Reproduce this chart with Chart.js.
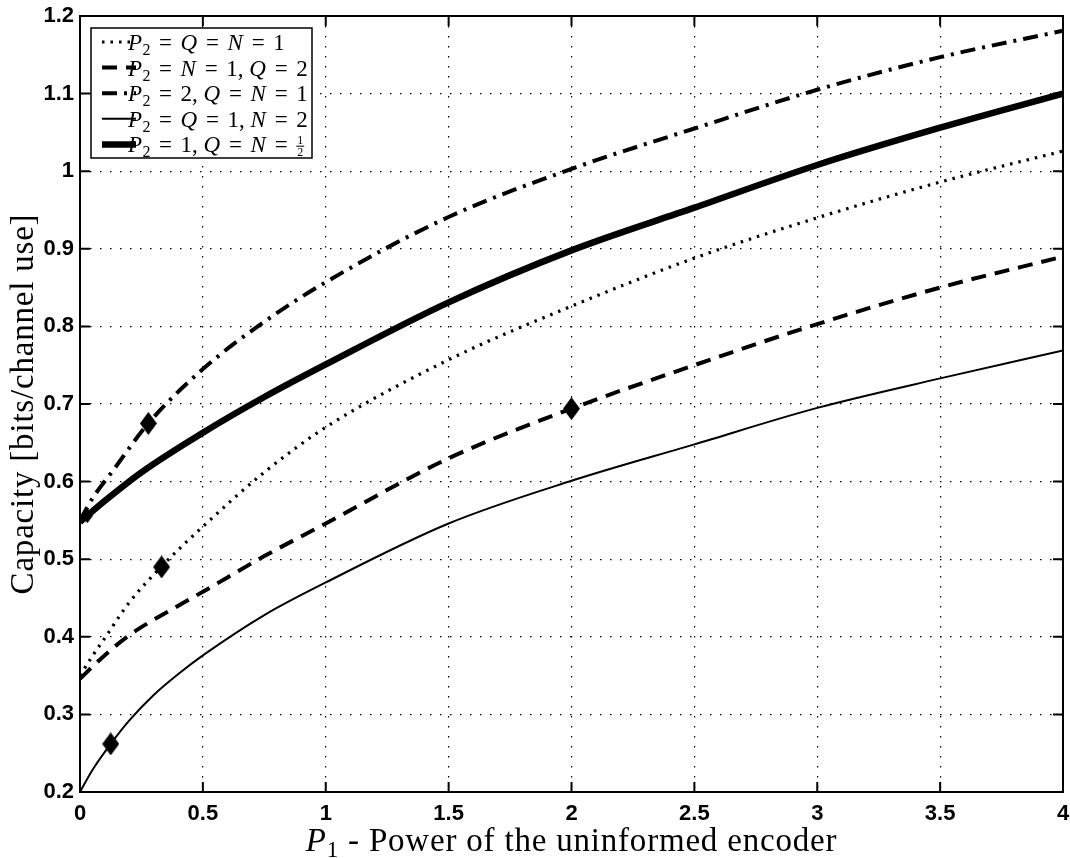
<!DOCTYPE html>
<html>
<head>
<meta charset="utf-8">
<script src="https://cdn.jsdelivr.net/npm/chart.js@4.4.0/dist/chart.umd.min.js"></script>
<style>
  html, body { margin: 0; padding: 0; background: #fff; }
</style>
</head>
<body>
<canvas id="myChart" width="1070" height="858"></canvas>
<script>
// values (P1 -> capacity)
// P2 = Q = N = 1 (dotted)
const xDotted = [0, 0.05, 0.1, 0.2, 0.33, 0.5, 0.75, 1, 1.5, 2, 2.5, 3, 3.5, 4];
const yDotted = [0.350, 0.375, 0.398, 0.444, 0.490, 0.542, 0.612, 0.670, 0.757, 0.826, 0.888, 0.940, 0.986, 1.026];

// P2 = N = 1, Q = 2 (dashed)
const xDashed = [0, 0.1, 0.2, 0.4, 0.5, 0.75, 1, 1.5, 2, 2.5, 3, 3.5, 4];
const yDashed = [0.346, 0.376, 0.402, 0.440, 0.458, 0.504, 0.546, 0.630, 0.694, 0.750, 0.803, 0.850, 0.890];

// P2 = 2, Q = N = 1 (dash-dot)
const xDashDot = [0, 0.05, 0.136, 0.278, 0.5, 0.75, 1, 1.5, 2, 2.5, 3, 3.5, 4];
const yDashDot = [0.550, 0.578, 0.615, 0.675, 0.745, 0.806, 0.857, 0.941, 1.003, 1.055, 1.105, 1.147, 1.181];

// P2 = Q = 1, N = 2 (thin solid)
const xThin = [0, 0.05, 0.125, 0.2, 0.3, 0.4, 0.5, 0.75, 1, 1.5, 2, 2.5, 3, 3.5, 4];
const yThin = [0.200, 0.228, 0.262, 0.292, 0.325, 0.352, 0.376, 0.428, 0.470, 0.546, 0.601, 0.648, 0.695, 0.733, 0.769];

// P2 = 1, Q = N = 1/2 (thick solid)
const xThick = [0, 0.1, 0.25, 0.5, 0.75, 1, 1.5, 2, 2.5, 3, 3.5, 4];
const yThick = [0.548, 0.575, 0.612, 0.663, 0.709, 0.751, 0.831, 0.898, 0.953, 1.008, 1.056, 1.100];

// diamond markers on the curves
const markX = [0.278, 0.332, 2, 0.125, 0.03];
const markY = [0.675, 0.490, 0.694, 0.262, 0.556];

// axis ticks
const xTicks = [0, 0.5, 1, 1.5, 2, 2.5, 3, 3.5, 4];
const yTicks = [0.2, 0.3, 0.4, 0.5, 0.6, 0.7, 0.8, 0.9, 1, 1.1, 1.2];

const SERIF = "'Liberation Serif', 'Times New Roman', serif";
const SANS = "'Liberation Sans', Arial, sans-serif";

function toPts(xs, ys) {
  return xs.map((x, i) => ({ x: x, y: ys[i] }));
}

function makeDiamond(w, h) {
  const c = document.createElement("canvas");
  c.width = w;
  c.height = h;
  const g = c.getContext("2d");
  g.fillStyle = "#000";
  g.beginPath();
  g.moveTo(w / 2, 0);
  g.lineTo(w, h / 2);
  g.lineTo(w / 2, h);
  g.lineTo(0, h / 2);
  g.closePath();
  g.fill();
  return c;
}

const bigDiamond = makeDiamond(17, 23);
const smallDiamond = makeDiamond(11, 15);

// line styles, also used by the hand drawn legend
const styles = [
  { width: 3.2, dash: [2.5, 6] },
  { width: 4, dash: [15, 9] },
  { width: 4, dash: [15, 7, 3, 7] },
  { width: 2, dash: [] },
  { width: 6.5, dash: [] },
];

// legend labels as small math token lists: i = italic, r = roman, s = subscript, e = equals, f = 1/2
const legendRows = [
  [["P", "i"], ["2", "s"], ["=", "e"], ["Q", "i"], ["=", "e"], ["N", "i"], ["=", "e"], ["1", "r"]],
  [["P", "i"], ["2", "s"], ["=", "e"], ["N", "i"], ["=", "e"], ["1,", "r"], [" ", "r"], ["Q", "i"], ["=", "e"], ["2", "r"]],
  [["P", "i"], ["2", "s"], ["=", "e"], ["2,", "r"], [" ", "r"], ["Q", "i"], ["=", "e"], ["N", "i"], ["=", "e"], ["1", "r"]],
  [["P", "i"], ["2", "s"], ["=", "e"], ["Q", "i"], ["=", "e"], ["1,", "r"], [" ", "r"], ["N", "i"], ["=", "e"], ["2", "r"]],
  [["P", "i"], ["2", "s"], ["=", "e"], ["1,", "r"], [" ", "r"], ["Q", "i"], ["=", "e"], ["N", "i"], ["=", "e"], ["", "f"]],
];

function lineSet(label, xs, ys, st) {
  return {
    label: label,
    data: toPts(xs, ys),
    borderColor: "#000",
    backgroundColor: "#000",
    borderWidth: st.width,
    borderDash: st.dash,
    borderCapStyle: "butt",
    pointRadius: 0,
    cubicInterpolationMode: "monotone",
    fill: false,
  };
}

function drawMath(ctx, x, baseY, tokens, size) {
  let cx = x;
  for (const [t, kind] of tokens) {
    if (kind === "i") {
      ctx.font = "italic " + size + "px " + SERIF;
      ctx.fillText(t, cx, baseY);
      cx += ctx.measureText(t).width + 0.5;
    } else if (kind === "r") {
      ctx.font = size + "px " + SERIF;
      ctx.fillText(t, cx, baseY);
      cx += ctx.measureText(t).width;
    } else if (kind === "s") {
      const s = Math.round(size * 0.7);
      ctx.font = s + "px " + SERIF;
      ctx.fillText(t, cx, baseY + size * 0.22);
      cx += ctx.measureText(t).width;
    } else if (kind === "e") {
      ctx.font = size + "px " + SERIF;
      const w = ctx.measureText("=").width;
      const box = size * 1.3;
      ctx.fillText("=", cx + (box - w) / 2, baseY);
      cx += box;
    } else if (kind === "f") {
      const s = Math.round(size * 0.5);
      ctx.font = s + "px " + SERIF;
      const mid = baseY - size * 0.27;
      ctx.fillText("1", cx + 1, mid - 2);
      ctx.fillText("2", cx + 1, mid + s * 0.85);
      ctx.fillRect(cx, mid - 0.5, s * 0.5 + 2, 1);
    }
  }
  return cx;
}

// frame, inward ticks, legend box and axis titles
const extras = {
  id: "extras",
  afterDraw(chart) {
    const ctx = chart.ctx;
    const a = chart.chartArea;
    const sx = chart.scales.x;
    const sy = chart.scales.y;
    ctx.save();
    ctx.strokeStyle = "#000";
    ctx.fillStyle = "#000";
    ctx.lineWidth = 2;
    ctx.setLineDash([]);
    ctx.strokeRect(a.left, a.top, a.right - a.left, a.bottom - a.top);

    const tl = 10;
    ctx.beginPath();
    xTicks.forEach((v) => {
      const px = sx.getPixelForValue(v);
      ctx.moveTo(px, a.bottom);
      ctx.lineTo(px, a.bottom - tl);
      ctx.moveTo(px, a.top);
      ctx.lineTo(px, a.top + tl);
    });
    yTicks.forEach((v) => {
      const py = sy.getPixelForValue(v);
      ctx.moveTo(a.left, py);
      ctx.lineTo(a.left + tl, py);
      ctx.moveTo(a.right, py);
      ctx.lineTo(a.right - tl, py);
    });
    ctx.stroke();

    // legend
    const bx = a.left + 11, by = a.top + 12, bw = 221, bh = 130;
    ctx.fillStyle = "#fff";
    ctx.fillRect(bx, by, bw, bh);
    ctx.lineWidth = 1.5;
    ctx.strokeRect(bx, by, bw, bh);
    ctx.fillStyle = "#000";
    ctx.textBaseline = "alphabetic";
    ctx.textAlign = "left";
    for (let i = 0; i < legendRows.length; i++) {
      const ry = by + 14 + i * 25.6;
      ctx.lineWidth = styles[i].width;
      ctx.setLineDash(styles[i].dash);
      ctx.lineCap = "butt";
      ctx.beginPath();
      ctx.moveTo(bx + 11, ry);
      ctx.lineTo(bx + 45, ry);
      ctx.stroke();
      ctx.setLineDash([]);
      drawMath(ctx, bx + 37, ry + 8, legendRows[i], 23);
    }

    // x title
    const titleY = 851;
    const fs = 33;
    ctx.letterSpacing = "0.8px";
    ctx.font = "italic " + fs + "px " + SERIF;
    const wP = ctx.measureText("P").width;
    ctx.font = "23px " + SERIF;
    const w1 = ctx.measureText("1").width;
    ctx.font = fs + "px " + SERIF;
    const rest = " - Power of the uninformed encoder";
    const wR = ctx.measureText(rest).width;
    let tx = (a.left + a.right) / 2 - (wP + w1 + wR) / 2;
    ctx.font = "italic " + fs + "px " + SERIF;
    ctx.fillText("P", tx, titleY);
    tx += wP;
    ctx.font = "23px " + SERIF;
    ctx.fillText("1", tx, titleY + 6);
    tx += w1;
    ctx.font = fs + "px " + SERIF;
    ctx.fillText(rest, tx, titleY);

    // y title
    ctx.translate(33, (a.top + a.bottom) / 2);
    ctx.rotate(-Math.PI / 2);
    ctx.textAlign = "center";
    ctx.font = fs + "px " + SERIF;
    ctx.fillText("Capacity [bits/channel use]", 0, 0);
    ctx.restore();
  },
};

const data = {
  datasets: [
    {
      label: "markers",
      data: toPts(markX, markY),
      showLine: false,
      pointStyle: [bigDiamond, bigDiamond, bigDiamond, bigDiamond, smallDiamond],
      pointRadius: 10,
      borderColor: "#000",
      backgroundColor: "#000",
    },
    lineSet("P2=Q=N=1", xDotted, yDotted, styles[0]),
    lineSet("P2=N=1,Q=2", xDashed, yDashed, styles[1]),
    lineSet("P2=2,Q=N=1", xDashDot, yDashDot, styles[2]),
    lineSet("P2=Q=1,N=2", xThin, yThin, styles[3]),
    lineSet("P2=1,Q=N=1/2", xThick, yThick, styles[4]),
  ],
};

const fmt = (v) => String(Math.round(v * 10) / 10);

const config = {
  type: "line",
  data,
  options: {
    responsive: false,
    animation: false,
    events: [],
    layout: { autoPadding: false, padding: { top: 16, right: 7, left: 0, bottom: 0 } },
    plugins: {
      legend: { display: false },
      tooltip: { enabled: false },
    },
    scales: {
      x: {
        type: "linear",
        min: 0,
        max: 4,
        afterFit(scale) {
          scale.height = 66;
          scale.paddingLeft = 0;
          scale.paddingRight = 0;
        },
        afterBuildTicks(scale) {
          scale.ticks = xTicks.map((v) => ({ value: v }));
        },
        ticks: {
          callback: fmt,
          color: "#000",
          padding: 9,
          maxRotation: 0,
          autoSkip: false,
          font: { family: SANS, size: 22, weight: "bold" },
        },
        grid: { color: "#000", lineWidth: 1.2, drawTicks: false },
        border: { display: false, dash: [1.5, 8.5] },
      },
      y: {
        type: "linear",
        min: 0.2,
        max: 1.2,
        afterFit(scale) {
          scale.width = 80;
          scale.paddingTop = 0;
          scale.paddingBottom = 0;
        },
        afterBuildTicks(scale) {
          scale.ticks = yTicks.map((v) => ({ value: v }));
        },
        ticks: {
          callback: fmt,
          color: "#000",
          padding: 6,
          autoSkip: false,
          font: { family: SANS, size: 22, weight: "bold" },
        },
        grid: { color: "#000", lineWidth: 1.2, drawTicks: false },
        border: { display: false, dash: [1.5, 8.5] },
      },
    },
  },
  plugins: [extras],
};

let myChart = new Chart(document.getElementById("myChart"), config);
</script>
</body>
</html>
